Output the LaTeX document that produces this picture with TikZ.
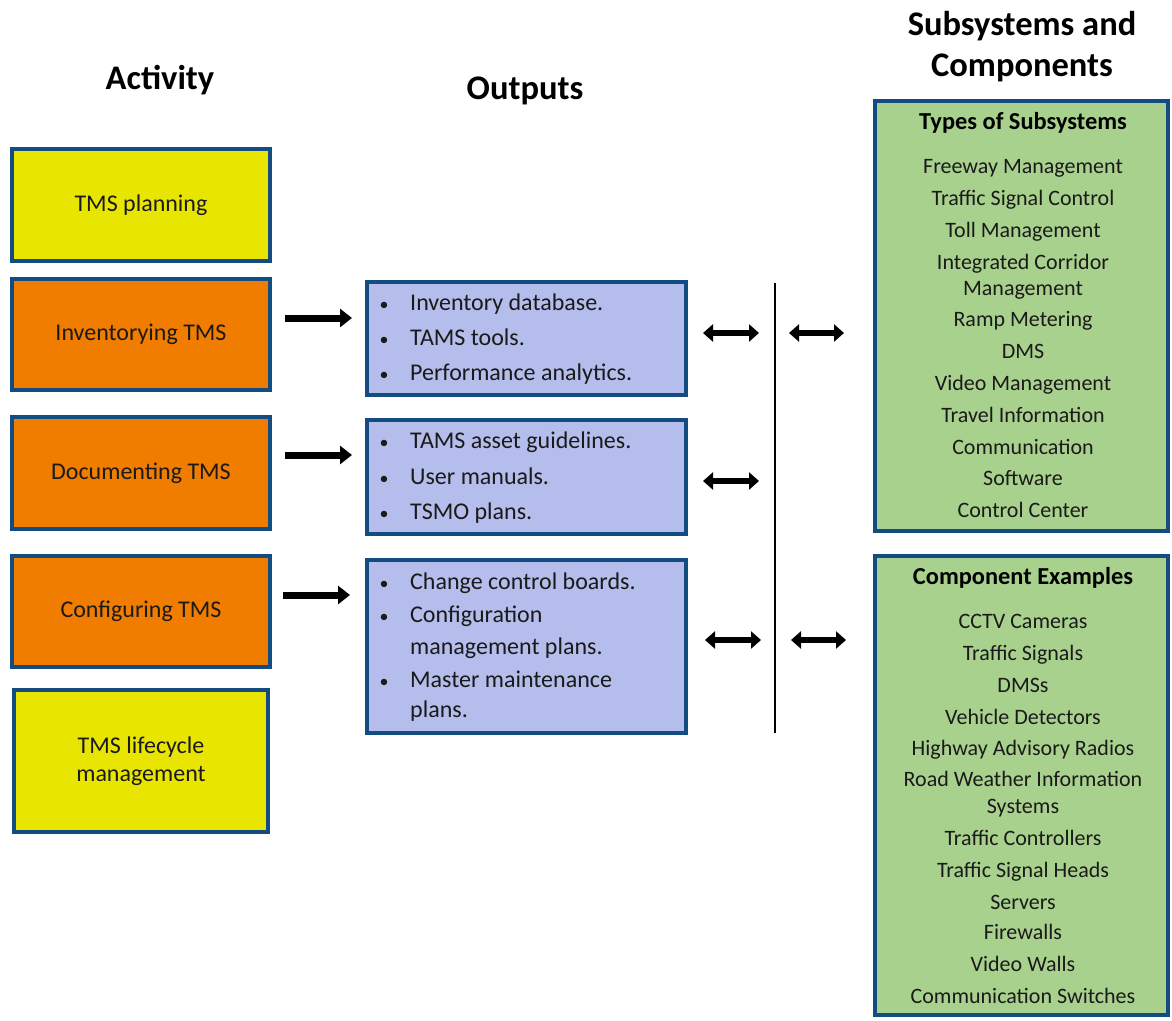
\documentclass[tikz,border=0pt]{standalone}
\usepackage{fontspec}
\setmainfont{Carlito}
\usetikzlibrary{arrows.meta}
\definecolor{boxblue}{HTML}{124C80}
\definecolor{yelfill}{HTML}{E8E600}
\definecolor{orgfill}{HTML}{F07C00}
\definecolor{lavfill}{HTML}{B4BDEB}
\definecolor{grnfill}{HTML}{A9D18E}
\definecolor{txt}{HTML}{1A1A1A}
\tikzset{
  box/.style={draw=boxblue, line width=4.5pt, rectangle, inner sep=0pt},
  acttext/.style={font=\fontsize{24}{28}\selectfont, text=txt, align=center},
  outtext/.style={font=\fontsize{24}{28}\selectfont, text=txt, anchor=mid west, inner sep=0pt},
  bul/.style={font=\fontsize{18}{22}\selectfont, text=txt, anchor=mid, inner sep=0pt},
  grntext/.style={font=\fontsize{22}{26}\selectfont, text=txt, anchor=mid, inner sep=0pt},
  grnhead/.style={font=\fontsize{24.4}{28}\selectfont\bfseries, text=black, anchor=mid, inner sep=0pt},
  title/.style={font=\fontsize{34.5}{40}\selectfont\bfseries, text=black, anchor=mid, inner sep=0pt},
  bigarrow/.style={line width=7pt, -{Triangle[length=12pt,width=18pt]}, black},
  dblarrow/.style={line width=6pt, {Triangle[length=10pt,width=17pt]}-{Triangle[length=10pt,width=17pt]}, black}
}
\begin{document}
\begin{tikzpicture}[x=1pt,y=-1pt]
\useasboundingbox (0,0) rectangle (1172,1020);
% titles
\node[title] (tAct) at (160,87) {Activity};
\node[title] (tOut) at (525,97) {Outputs};
\node[title] (tSub1) at (1022,33) {Subsystems and};
\node[title] (tSub2) at (1022,74) {Components};
% activity boxes
\node[box, fill=yelfill, minimum width=258pt, minimum height=112pt] (a1) at (141,205) {};
\node[acttext] (a1t) at (a1.center) {TMS planning};
\node[box, fill=orgfill, minimum width=258pt, minimum height=111pt] (a2) at (141,334.5) {};
\node[acttext] (a2t) at (a2.center) {Inventorying TMS};
\node[box, fill=orgfill, minimum width=258pt, minimum height=112pt] (a3) at (141,473) {};
\node[acttext] (a3t) at (a3.center) {Documenting TMS};
\node[box, fill=orgfill, minimum width=258pt, minimum height=111pt] (a4) at (141,611.5) {};
\node[acttext] (a4t) at (a4.center) {Configuring TMS};
\node[box, fill=yelfill, minimum width=254pt, minimum height=142pt] (a5) at (141,761) {};
\node[acttext] (a5t) at (a5.center) {TMS lifecycle\\management};
% output boxes
\node[box, fill=lavfill, minimum width=319pt, minimum height=113pt] (o1) at (526.5,338.5) {};
\node[box, fill=lavfill, minimum width=319pt, minimum height=114pt] (o2) at (526.5,477) {};
\node[box, fill=lavfill, minimum width=319pt, minimum height=173pt] (o3) at (526.5,646.5) {};
\foreach \y/\t [count=\i] in {308/Inventory database., 343/TAMS tools., 378/Performance analytics.}{
  \node[bul] (o1b\i) at (384,\y) {•};
  \node[outtext] (o1t\i) at (410,\y) {\t};
}
\foreach \y/\t [count=\i] in {446/TAMS asset guidelines., 482/User manuals., 517/TSMO plans.}{
  \node[bul] (o2b\i) at (384,\y) {•};
  \node[outtext] (o2t\i) at (410,\y) {\t};
}
\node[bul] (o3b1) at (384,587) {•};
\node[outtext] (o3t1) at (410,587) {Change control boards.};
\node[bul] (o3b2) at (384,620) {•};
\node[outtext] (o3t2) at (410,620) {Configuration};
\node[outtext] (o3t3) at (410,652) {management plans.};
\node[bul] (o3b4) at (384,685) {•};
\node[outtext] (o3t4) at (410,685) {Master maintenance};
\node[outtext] (o3t5) at (410,715) {plans.};
% green boxes
\node[box, fill=grnfill, minimum width=293pt, minimum height=430pt] (g1) at (1021.5,316) {};
\node[box, fill=grnfill, minimum width=293pt, minimum height=459pt] (g2) at (1021.5,785.5) {};
\node[grnhead] (g1h) at (1023,127) {Types of Subsystems};
\foreach \y/\t [count=\i] in {171/Freeway Management, 203/Traffic Signal Control, 235/Toll Management, 267/Integrated Corridor, 293/Management, 324/Ramp Metering, 356/DMS, 388/Video Management, 420/Travel Information, 452/Communication, 483/Software, 515/Control Center}{
  \node[grntext] (g1t\i) at (1023,\y) {\t};
}
\node[grnhead] (g2h) at (1023,582) {Component Examples};
\foreach \y/\t [count=\i] in {626/CCTV Cameras, 658/Traffic Signals, 690/DMSs, 722/Vehicle Detectors, 753/Highway Advisory Radios, 784/Road Weather Information, 811/Systems, 843/Traffic Controllers, 875/Traffic Signal Heads, 907/Servers, 937/Firewalls, 969/Video Walls, 1001/Communication Switches}{
  \node[grntext] (g2t\i) at (1023,\y) {\t};
}
% vertical line
\coordinate (vtop) at (775,283);
\coordinate (vbot) at (775,733);
\draw[line width=1.5pt] (vtop) -- (vbot);
% big arrows
\coordinate (ba1s) at (285,318); \coordinate (ba1e) at (352,318);
\coordinate (ba2s) at (285,455); \coordinate (ba2e) at (352,455);
\coordinate (ba3s) at (283,595); \coordinate (ba3e) at (350,595);
\draw[bigarrow] (ba1s) -- (ba1e);
\draw[bigarrow] (ba2s) -- (ba2e);
\draw[bigarrow] (ba3s) -- (ba3e);
% double arrows
\coordinate (d1s) at (703,333); \coordinate (d1e) at (759,333);
\coordinate (d2s) at (703,481); \coordinate (d2e) at (759,481);
\coordinate (d3s) at (705,640); \coordinate (d3e) at (761,640);
\coordinate (d4s) at (789,333); \coordinate (d4e) at (844,333);
\coordinate (d5s) at (791,640); \coordinate (d5e) at (846,640);
\draw[dblarrow] (d1s) -- (d1e);
\draw[dblarrow] (d2s) -- (d2e);
\draw[dblarrow] (d3s) -- (d3e);
\draw[dblarrow] (d4s) -- (d4e);
\draw[dblarrow] (d5s) -- (d5e);
\end{tikzpicture}
\end{document}
